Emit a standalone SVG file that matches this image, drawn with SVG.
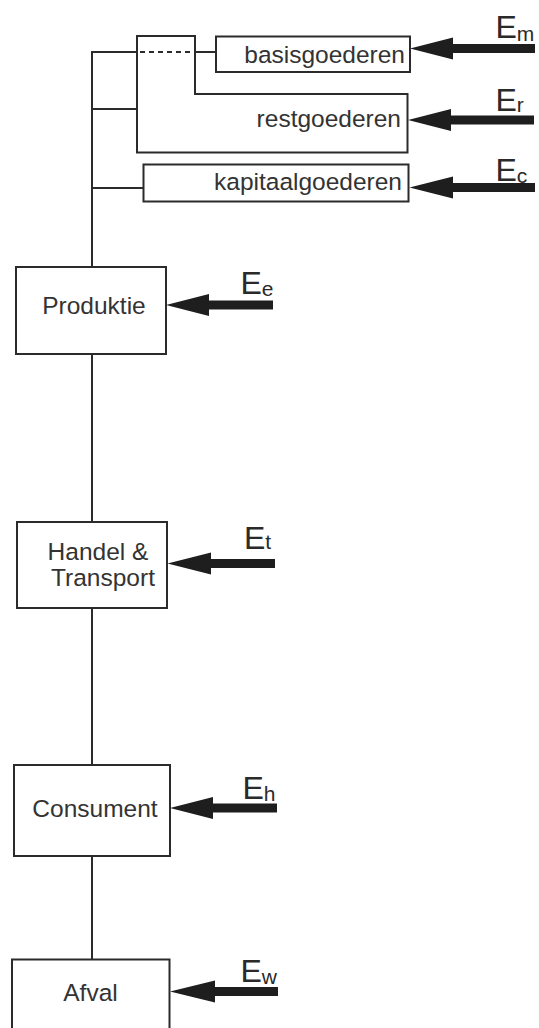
<svg xmlns="http://www.w3.org/2000/svg" width="539" height="1028" viewBox="0 0 539 1028">
<style>
.box{fill:#fff;stroke:#2b2b2b;stroke-width:2}
.open{fill:none;stroke:#2b2b2b;stroke-width:2}
.ln{fill:none;stroke:#2b2b2b;stroke-width:2}
.dash{fill:none;stroke:#2b2b2b;stroke-width:2;stroke-dasharray:5 4}
.arr{fill:#1e1e1e}
.lbl{font-family:"Liberation Sans",Arial,sans-serif;font-size:24.5px;fill:#333}
.e{font-family:"Liberation Sans",Arial,sans-serif;font-size:32px;fill:#2a2a2a}
.s{font-size:21px}
</style>
<rect width="539" height="1028" fill="#fff"/>
<g id="restgoederen">
  <path class="open" d="M137,36 H195 V94 H407.5 V152.5 H137 Z"/>
  <text class="lbl" x="401" y="127" text-anchor="end">restgoederen</text>
</g>
<g id="connectors">
  <path class="ln" d="M92,52 V267 M92,354 V522 M92,608 V765 M92,856 V960"/>
  <path class="ln" d="M91,52 H138 M195,52 H216 M92,109 H137 M92,188 H143.5"/>
  <path class="dash" d="M140,52 H194"/>
  <polygon class="arr" points="410,48.5 453,37.5 453,44 535,44 535,53 453,53 453,59.5"/>
  <polygon class="arr" points="408,120 451,109 451,115.5 534,115.5 534,124.5 451,124.5 451,131"/>
  <polygon class="arr" points="409.5,187.5 453,176.5 453,183 535,183 535,192 453,192 453,198.5"/>
  <polygon class="arr" points="166,305 209,294 209,300.5 273,300.5 273,309.5 209,309.5 209,316"/>
  <polygon class="arr" points="167.5,563.5 211,552.5 211,559 275,559 275,568 211,568 211,574.5"/>
  <polygon class="arr" points="170,808 213,797 213,803.5 277,803.5 277,812.5 213,812.5 213,819"/>
  <polygon class="arr" points="170,991.5 215,980.5 215,987 278,987 278,996 215,996 215,1002.5"/>
</g>
<g id="labels">
  <text class="e" x="495.5" y="37.5">E<tspan class="s" dy="3">m</tspan></text>
  <text class="e" x="495.5" y="110.5">E<tspan class="s" dy="1.5">r</tspan></text>
  <text class="e" x="495.5" y="180.5">E<tspan class="s" dy="2">c</tspan></text>
  <text class="e" x="240.5" y="294">E<tspan class="s" dy="1.5">e</tspan></text>
  <text class="e" x="244" y="549">E<tspan class="s" dy="0">t</tspan></text>
  <text class="e" x="242.5" y="799">E<tspan class="s" dy="1.5">h</tspan></text>
  <text class="e" x="240.5" y="982">E<tspan class="s" dy="1.5">w</tspan></text>
</g>
<g id="basisgoederen">
  <rect class="box" x="216" y="36.5" width="194" height="35.5"/>
  <text class="lbl" x="405" y="63" text-anchor="end">basisgoederen</text>
</g>
<g id="kapitaalgoederen">
  <rect class="box" x="143.5" y="164.5" width="265" height="37"/>
  <text class="lbl" x="402" y="190" text-anchor="end">kapitaalgoederen</text>
</g>
<g id="produktie">
  <rect class="box" x="16" y="267" width="150" height="87"/>
  <text class="lbl" x="94" y="314" text-anchor="middle">Produktie</text>
</g>
<g id="handel-transport">
  <rect class="box" x="17" y="522" width="150" height="86"/>
  <text class="lbl" x="98" y="560" text-anchor="middle">Handel &amp;</text>
  <text class="lbl" x="103" y="586" text-anchor="middle">Transport</text>
</g>
<g id="consument">
  <rect class="box" x="14" y="765" width="156" height="91"/>
  <text class="lbl" x="95" y="817" text-anchor="middle">Consument</text>
</g>
<g id="afval">
  <rect class="box" x="12" y="959.5" width="157.5" height="100"/>
  <text class="lbl" x="90.5" y="1001" text-anchor="middle">Afval</text>
</g>
</svg>
